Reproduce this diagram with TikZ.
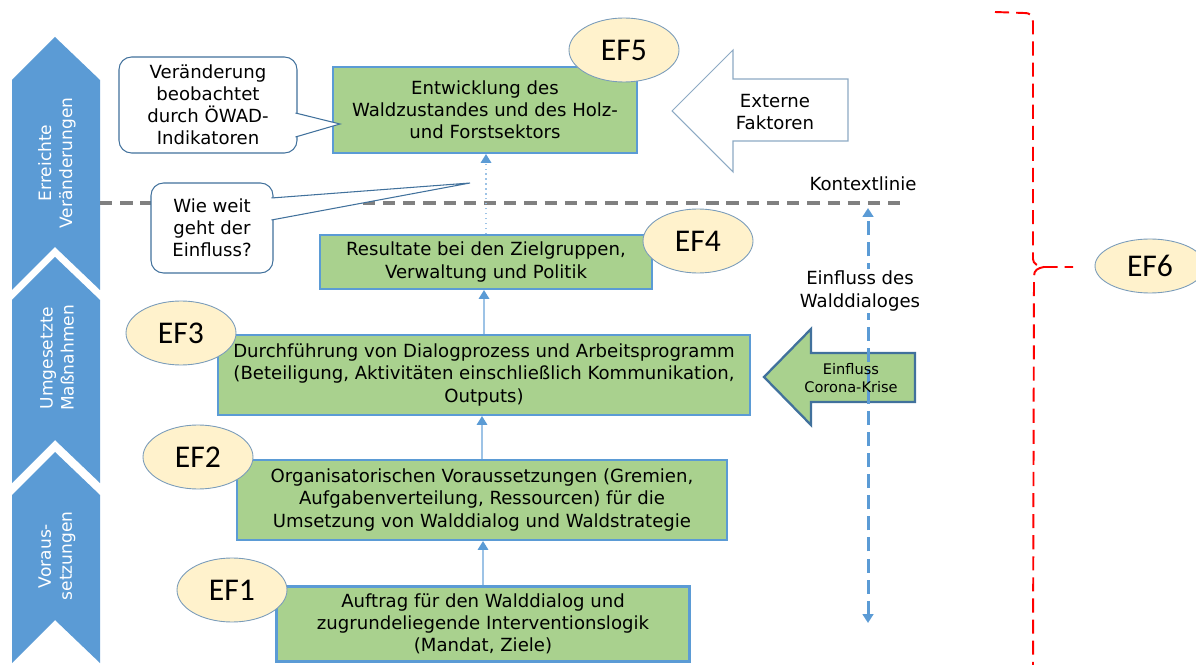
\documentclass[tikz,border=0pt]{standalone}
\usepackage{fontspec}
\setmainfont{DejaVu Sans}
\newfontfamily\eflabel{Carlito}
\usetikzlibrary{arrows.meta,shapes,positioning,calc}
\definecolor{phaseblue}{RGB}{91,155,213}
\definecolor{boxgreen}{RGB}{169,209,142}
\definecolor{efyellow}{RGB}{255,242,204}
\definecolor{lineblue}{RGB}{65,113,156}
\definecolor{lightblue}{RGB}{157,195,230}
\definecolor{contextgray}{RGB}{128,128,128}
\definecolor{bracered}{RGB}{255,0,0}
\newcommand\wdfont{\fontsize{10.3}{12.6}\selectfont}

\begin{document}
\begin{tikzpicture}[
    x=0.2mm, y=-0.2mm,
    font=\wdfont,
    box/.style={rectangle, draw=phaseblue, line width=1.2pt, fill=boxgreen,
                align=center, inner sep=2pt},
    efmark/.style={ellipse, draw=lineblue!70, line width=0.5pt, fill=efyellow,
                   minimum width=2.2cm, minimum height=1.28cm,
                   font=\eflabel\fontsize{18}{20}\selectfont},
    callout/.style={rectangle, rounded corners=0.25cm, draw=lineblue, line width=0.6pt,
                    fill=white, align=center},
    pointer/.style={draw=lineblue, line width=0.6pt, fill=white},
    phase/.style={rotate=90, text=white, align=center, font=\fontsize{9.7}{12}\selectfont},
    flow/.style={draw=lightblue, line width=0.8pt,
                 -{Triangle[length=5pt,width=6pt,color=phaseblue]}},
    ctxline/.style={draw=contextgray, line width=2pt, dash pattern=on 7pt off 4.5pt},
    influence/.style={draw=phaseblue, line width=1.7pt, dash pattern=on 8pt off 4pt,
                      {Triangle[length=5pt,width=6pt]}-{Triangle[length=5pt,width=6pt]}},
    extarrow/.style={draw=lineblue!60, line width=0.6pt, fill=white},
    coronaarrow/.style={draw=lineblue, line width=1.3pt, fill=boxgreen},
    brace/.style={draw=bracered, line width=1.1pt, dash pattern=on 8pt off 4pt}
]
    \useasboundingbox (0,0) rectangle (1196,665);
    \clip (0,0) rectangle (1196,665);

    % Phases
    \fill[phaseblue] (12,80) -- (55,37) -- (100,80) -- (100,290) -- (55,247) -- (12,290) -- cycle;
    \fill[phaseblue] (12,300) -- (55,257) -- (100,300) -- (100,483) -- (55,440) -- (12,483) -- cycle;
    \fill[phaseblue] (12,495) -- (55,452) -- (100,495) -- (100,663) -- (55,620) -- (12,663) -- cycle;
    \node[phase] (changes) at (57,163) {Erreichte\\Veränderungen};
    \node[phase] (measures) at (57,358) {Umgesetzte\\Maßnahmen};
    \node[phase] (prereq) at (57,556) {Voraus-\\setzungen};

    % Context line
    \coordinate (ctxstart) at (100,203);
    \coordinate (ctxend) at (908,203);
    \draw[ctxline] (ctxstart) -- (ctxend);
    \node (ctxlabel) at (863,184) {Kontextlinie};

    % Results
    \node[box, minimum width=6.08cm, minimum height=1.72cm] (result5) at (485,110)
        {Entwicklung des\\Waldzustandes und des Holz-\\und Forstsektors};
    \node[box, minimum width=6.64cm, minimum height=1.08cm] (result4) at (486,262)
        {Resultate bei den Zielgruppen,\\Verwaltung und Politik};
    \node[box, minimum width=10.64cm, minimum height=1.6cm] (result3) at (484,375)
        {Durchführung von Dialogprozess und Arbeitsprogramm\\(Beteiligung, Aktivitäten einschließlich Kommunikation,\\Outputs)};
    \node[box, minimum width=9.8cm, minimum height=1.6cm] (result2) at (482,500)
        {Organisatorischen Voraussetzungen (Gremien,\\Aufgabenverteilung, Ressourcen) für die\\Umsetzung von Walddialog und Waldstrategie};
    \node[box, minimum width=8.26cm, minimum height=1.5cm] (result1) at (483,624)
        {Auftrag für den Walddialog und\\zugrundeliegende Interventionslogik\\(Mandat, Ziele)};

    % Arrows
    \draw[flow] (result1.north) -- (result1.north |- result2.south);
    \draw[flow] (result2.north) -- (result2.north |- result3.south);
    \draw[flow] (result3.north) -- (result3.north |- result4.south);
    \draw[flow, dotted] (result4.north) -- (result4.north |- result5.south);

    % Effect markers
    \node[efmark] (ef5) at (624,50) {EF5};
    \node[efmark] (ef4) at (698,241) {EF4};
    \node[efmark] (ef3) at (181,333) {EF3};
    \node[efmark] (ef2) at (198,457) {EF2};
    \node[efmark] (ef1) at (232,590) {EF1};
    \node[efmark, minimum height=1.08cm] (ef6) at (1150,266) {EF6};

    % Callouts
    \node[callout, minimum width=3.56cm, minimum height=1.92cm] (observed) at (208,105)
        {Veränderung\\beobachtet\\durch ÖWAD-\\Indikatoren};
    \coordinate (observedtip) at (340,124);
    \draw[pointer] (295.5,113) -- (observedtip) -- (295.5,137);
    \node[callout, minimum width=2.44cm, minimum height=1.8cm] (reach) at (212,228)
        {Wie weit\\geht der\\Einfluss?};
    \coordinate (reachtip) at (470,183);
    \draw[pointer] (271.5,198) -- (reachtip) -- (271.5,220);

    % External factors
    \draw[extarrow] (672,111) -- (733,50) -- (733,79) -- (848,79) -- (848,141) -- (733,141) -- (733,172) -- cycle;
    \node[align=center] (external) at (775,112) {Externe\\Faktoren};

    % Corona and dialogue influence
    \draw[coronaarrow] (764,377) -- (811,329) -- (811,353) -- (915,353) -- (915,402) -- (811,402) -- (811,425) -- cycle;
    \coordinate (inftop) at (868,208);
    \coordinate (infbot) at (868,623);
    \draw[influence] (infbot) -- (inftop);
    \node[align=center, fill=white, inner sep=1pt] (dialog) at (860,291) {Einfluss des\\Walddialoges};
    \node[align=center, font=\fontsize{8.3}{10}\selectfont] (corona) at (851,378) {Einfluss\\Corona-Krise};

    % Brace
    \draw[brace] (995,12) -- (1024,13) .. controls (1031,13) and (1033,16) .. (1033,22) -- (1033,259)
        .. controls (1033,264) and (1038,266) .. (1044,267) -- (1073,267);
    \draw[brace] (1044,267) .. controls (1038,268) and (1034,270) .. (1034,276) -- (1033,665);
\end{tikzpicture}
\end{document}
